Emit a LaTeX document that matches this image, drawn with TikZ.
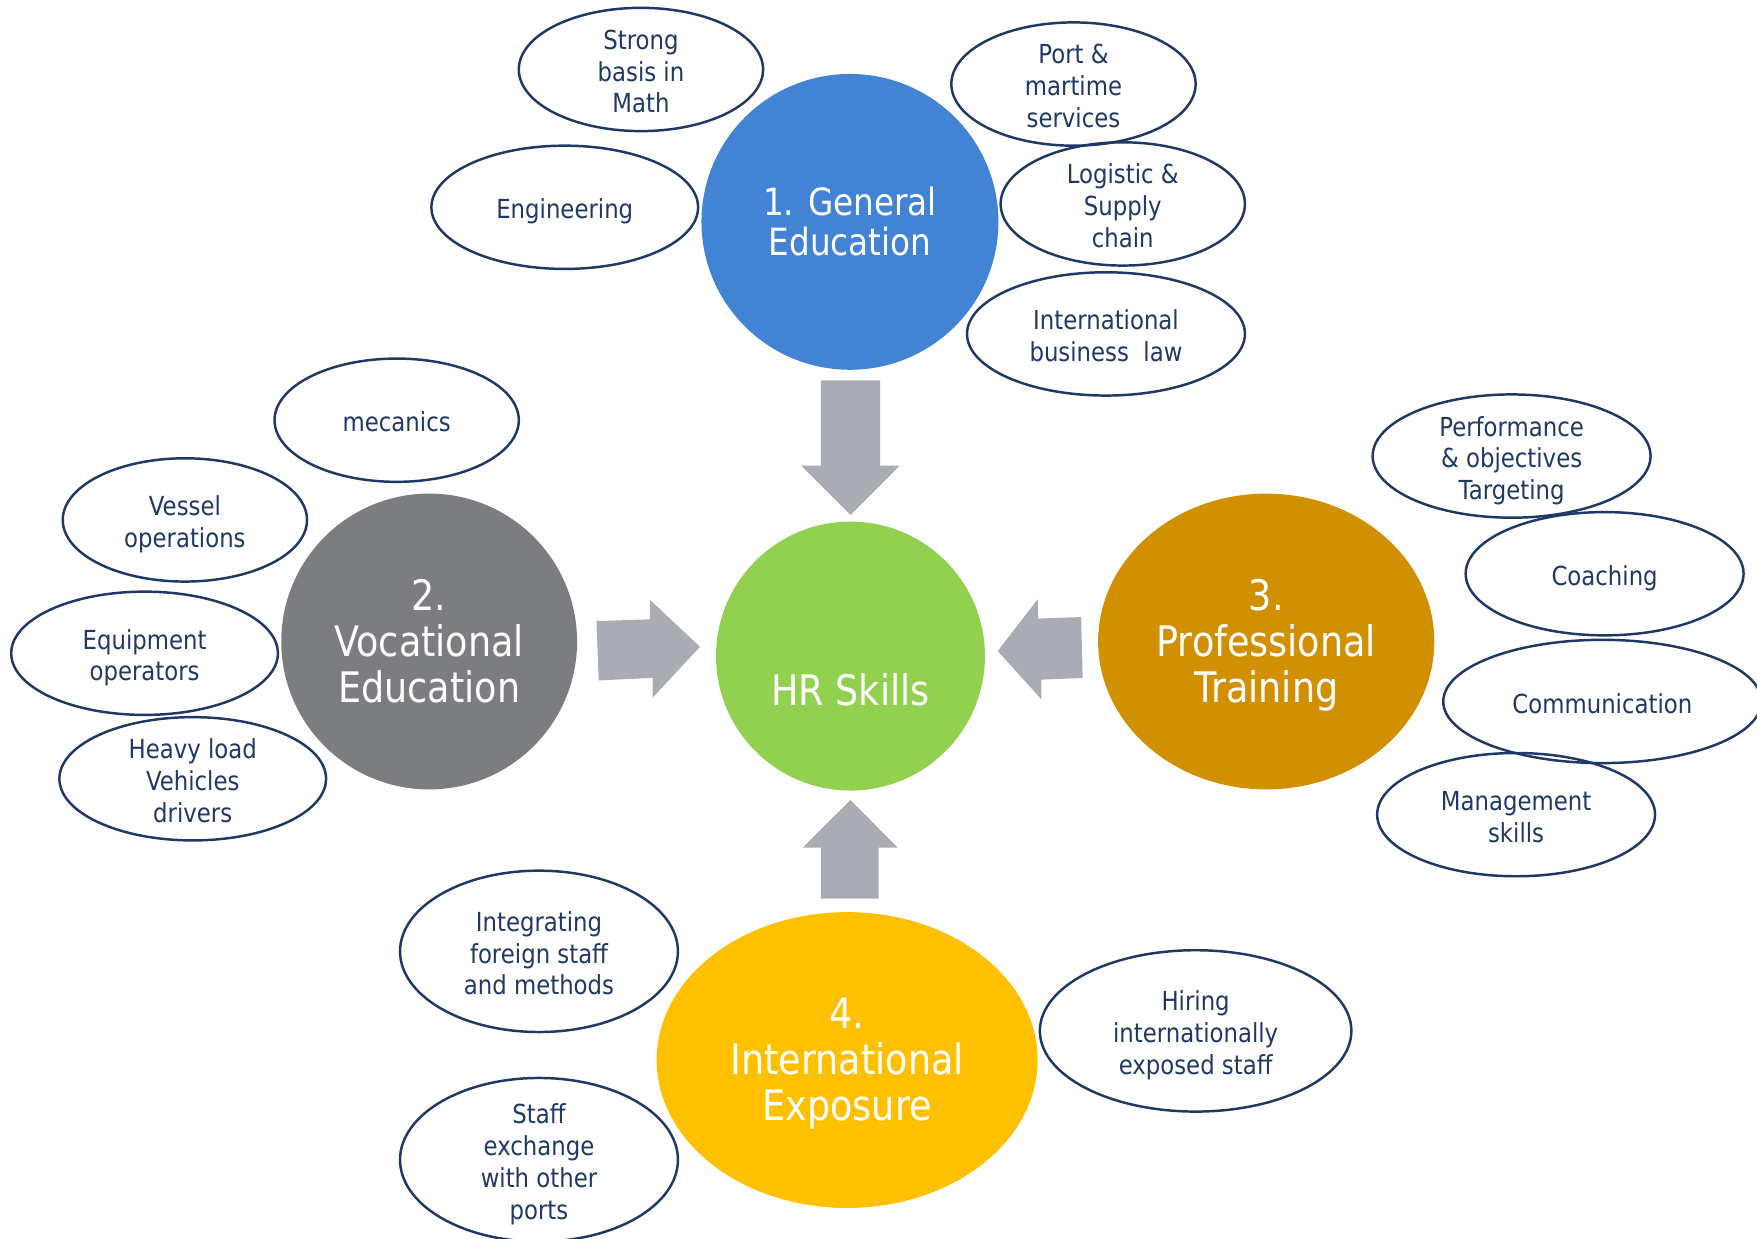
\documentclass[tikz,border=0pt]{standalone}
\usepackage{fontspec}
\setmainfont{DejaVu Sans}[FakeStretch=0.87]
\usetikzlibrary{shapes.geometric}
\definecolor{navy}{HTML}{1F3864}
\definecolor{arrowgray}{HTML}{A9ABB5}
\definecolor{geblue}{HTML}{4383D4}
\definecolor{hrgreen}{HTML}{92D050}
\definecolor{vegray}{HTML}{7C7D81}
\definecolor{ptorange}{HTML}{D09000}
\definecolor{ieyellow}{HTML}{FFC000}
\newcommand\mytop{\rule{0pt}{1.15em}}
\newcommand\mybot{\rule[-0.26em]{0pt}{0.26em}}
\begin{document}
\begin{tikzpicture}[x=1pt,y=-1pt,
  leaf/.style={ellipse, draw=navy, line width=2.2pt, inner xsep=-40pt, inner ysep=-60pt,
    align=center, text=navy, font=\fontsize{23.4}{28.3}\selectfont},
  hub/.style={ellipse, inner sep=0pt, draw=none},
  hubtext/.style={text=white, align=center, inner sep=0pt,
    font=\fontsize{37.5}{41}\selectfont},
  blockarrow/.style={fill=arrowgray}]
\useasboundingbox (0,0) rectangle (1568,1105);
\clip (0,0) rectangle (1568,1105);
\fill[white] (0,0) rectangle (1568,1105);

% hubs
\node[hub, fill=geblue, minimum width=265pt, minimum height=264pt] (ge) at (758.5,198) {};
\node[hub, fill=hrgreen, minimum width=240pt, minimum height=240pt] (hr) at (759,585.5) {};
\node[hub, fill=vegray, minimum width=264pt, minimum height=264pt] (ve) at (383,572.5) {};
\node[hub, fill=ptorange, minimum width=300pt, minimum height=264pt] (pt) at (1130,572.5) {};
\node[hub, fill=ieyellow, minimum width=340pt, minimum height=264pt] (ie) at (756,946) {};

\node[hubtext, font=\fontsize{33.5}{35.6}\selectfont] (getext) at (758.5,195.5) {\mytop 1. General\\Education\mybot};
\node[hubtext] (hrtext) at (759,612.5) {\mytop HR Skills\mybot};
\node[hubtext] (vetext) at (383,569.5) {\mytop 2.\\Vocational\\Education\mybot};
\node[hubtext] (pttext) at (1130,569.5) {\mytop 3.\\Professional\\Training\mybot};
\node[hubtext] (ietext) at (756,942.5) {\mytop 4.\\International\\Exposure\mybot};

% block arrows
\fill[blockarrow] (732.5,339.5) -- (785.5,339.5) -- (785.5,415.5) -- (803,415.5)
  -- (759,459.5) -- (715,415.5) -- (732.5,415.5) -- cycle;
\fill[blockarrow] (532.3,554.3) -- (580,552.7) -- (580,535.3) -- (624.7,577.2)
  -- (582.5,622.5) -- (582.3,605) -- (534.3,607.2) -- cycle;
\fill[blockarrow] (964.8,550.7) -- (926.5,552) -- (926.1,534.8) -- (890.4,581)
  -- (929.3,624) -- (929.3,606.5) -- (966.2,605) -- cycle;
\fill[blockarrow] (732.7,802) -- (784.2,802) -- (784.2,756.4) -- (801.1,756.4)
  -- (759,714) -- (716.4,756.4) -- (732.7,756.4) -- cycle;

% leaves
\node[leaf, minimum width=218pt, minimum height=110pt] (math) at (572,62) {\mytop Strong\\basis in\\Math\mybot};
\node[leaf, minimum width=218pt, minimum height=110pt] (port) at (958,75) {\mytop Port \&\\martime\\services\mybot};
\node[leaf, minimum width=238pt, minimum height=110pt] (eng) at (504,185) {\mytop Engineering\mybot};
\node[leaf, minimum width=218pt, minimum height=110pt] (logi) at (1002,182) {\mytop Logistic \&\\Supply\\chain\mybot};
\node[leaf, minimum width=248pt, minimum height=110pt] (law) at (987,298) {\mytop International\\business\ \ law\mybot};
\node[leaf, minimum width=218pt, minimum height=110pt] (mec) at (354,375) {\mytop mecanics\mybot};
\node[leaf, minimum width=218pt, minimum height=110pt] (vessel) at (165,464) {\mytop Vessel\\operations\mybot};
\node[leaf, minimum width=238pt, minimum height=110pt] (equip) at (129,583) {\mytop Equipment\\operators\mybot};
\node[leaf, minimum width=238pt, minimum height=110pt] (heavy) at (172,695) {\mytop Heavy load\\Vehicles\\drivers\mybot};
\node[leaf, minimum width=248pt, minimum height=110pt] (perf) at (1349,407) {\mytop Performance\\\& objectives\\Targeting\mybot};
\node[leaf, minimum width=248pt, minimum height=110pt] (coach) at (1432,512) {\mytop Coaching\mybot};
\node[leaf, minimum width=284pt, minimum height=110pt] (comm) at (1430,626) {\mytop Communication\mybot};
\node[leaf, minimum width=248pt, minimum height=110pt] (mgmt) at (1353,727) {\mytop Management\\skills\mybot};
\node[leaf, minimum width=248pt, minimum height=144pt] (integ) at (481,849) {\mytop Integrating\\foreign staff\\and methods\mybot};
\node[leaf, minimum width=278pt, minimum height=144pt] (hiring) at (1067,920) {\mytop Hiring\\internationally\\exposed staff\mybot};
\node[leaf, minimum width=248pt, minimum height=146pt] (staff) at (481,1035) {\mytop Staff\\exchange\\with other\\ports\mybot};
\end{tikzpicture}
\end{document}
